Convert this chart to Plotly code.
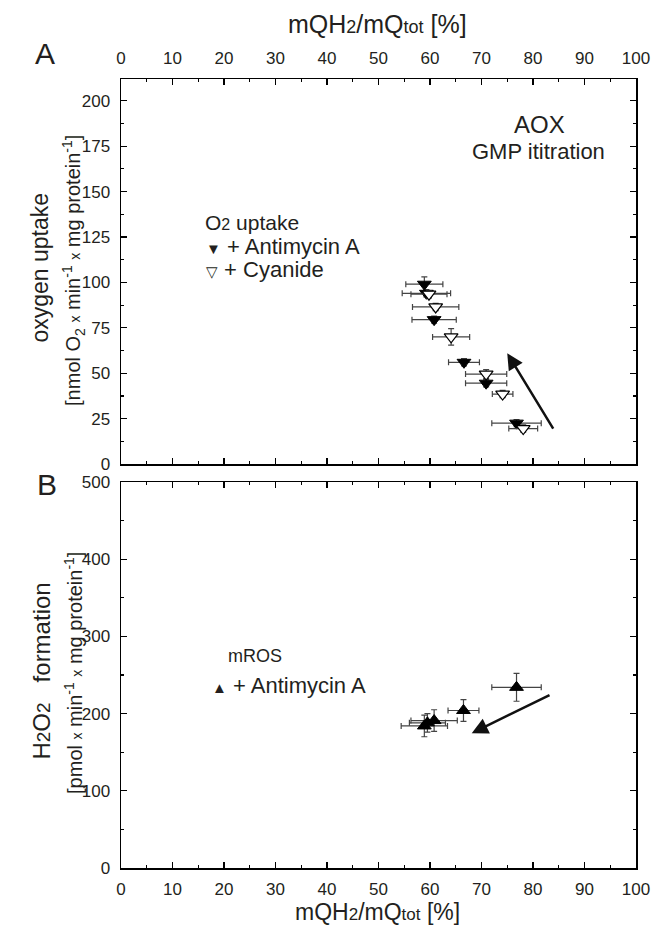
import plotly.graph_objects as go

# ---- data ----
# Panel A: O2 uptake, + Antimycin A (filled down-triangles)
x_aa = [58.9, 59.3, 60.8, 66.6, 70.9, 76.8]
y_aa = [99.0, 94.0, 79.5, 56.0, 44.5, 22.5]
xerr_aa = [3.6, 4.7, 4.3, 3.0, 4.0, 4.8]
yerr_aa = [4.0, 2.0, 2.0, 2.0, 2.0, 2.0]

# Panel A: O2 uptake, + Cyanide (open down-triangles)
x_cn = [59.8, 61.1, 64.1, 70.9, 74.1, 78.1]
y_cn = [93.5, 86.5, 70.0, 49.5, 38.5, 19.5]
xerr_cn = [3.5, 4.5, 3.6, 4.0, 2.0, 2.8]
yerr_cn = [2.0, 2.0, 4.5, 2.5, 2.0, 2.0]

# Panel B: H2O2 formation, mROS + Antimycin A (filled up-triangles)
x_h = [58.9, 59.5, 60.8, 66.5, 76.8]
y_h = [184.0, 188.0, 191.0, 204.0, 234.0]
xerr_h = [4.5, 3.5, 4.5, 3.0, 4.8]
yerr_h = [14.0, 12.0, 14.0, 14.0, 18.0]

# arrows (tail -> head), data units
arrowA_tail = [84.1, 18.7]
arrowA_head = [75.0, 61.0]
arrowB_tail = [83.5, 225.0]
arrowB_head = [68.1, 174.5]

x_ticks = [0, 10, 20, 30, 40, 50, 60, 70, 80, 90, 100]
yA_ticks = [0, 25, 50, 75, 100, 125, 150, 175, 200]
yB_ticks = [0, 100, 200, 300, 400, 500]

FONT = "Liberation Sans, Arial, Helvetica, sans-serif"
TXT = "#231f20"
W, H = 662, 926
ML, MR, MT, MB = 121, 16, 79, 58
PH = H - MT - MB
PW = W - ML - MR


def py(p):
    return (H - MB - p) / PH


def px(p):
    return (p - ML) / PW


ebcol = "#444444"
fig = go.Figure()

fig.add_trace(go.Scatter(
    x=x_aa, y=y_aa, mode="markers", xaxis="x", yaxis="y",
    marker=dict(symbol="triangle-down", size=12, color="black",
                line=dict(color="black", width=1)),
    error_x=dict(type="data", array=xerr_aa, color=ebcol, thickness=1.2, width=3),
    error_y=dict(type="data", array=yerr_aa, color=ebcol, thickness=1.2, width=3),
    showlegend=False, hoverinfo="skip"))

fig.add_trace(go.Scatter(
    x=x_cn, y=y_cn, mode="markers", xaxis="x", yaxis="y",
    marker=dict(symbol="triangle-down", size=12, color="white",
                line=dict(color="black", width=1.2)),
    error_x=dict(type="data", array=xerr_cn, color=ebcol, thickness=1.2, width=3),
    error_y=dict(type="data", array=yerr_cn, color=ebcol, thickness=1.2, width=3),
    showlegend=False, hoverinfo="skip"))

fig.add_trace(go.Scatter(
    x=x_h, y=y_h, mode="markers", xaxis="x2", yaxis="y2",
    marker=dict(symbol="triangle-up", size=12, color="black",
                line=dict(color="black", width=1)),
    error_x=dict(type="data", array=xerr_h, color=ebcol, thickness=1.2, width=3),
    error_y=dict(type="data", array=yerr_h, color=ebcol, thickness=1.2, width=3),
    showlegend=False, hoverinfo="skip"))

axcommon = dict(showline=True, linecolor="black", linewidth=1.5, mirror="ticks",
                ticks="inside", ticklen=6, tickwidth=1.2, tickcolor="black",
                showgrid=False, zeroline=False,
                tickfont=dict(family=FONT, size=17, color=TXT))

fig.update_layout(
    width=W, height=H,
    margin=dict(l=ML, r=MR, t=MT, b=MB),
    paper_bgcolor="white", plot_bgcolor="white",
    font=dict(family=FONT, color=TXT),
    xaxis=dict(domain=[0, 1], anchor="y", side="top", range=[0, 100],
               tickvals=x_ticks, ticklabelstandoff=7,
               minor=dict(dtick=5, ticks="inside", ticklen=3, tickcolor="black"),
               **axcommon),
    yaxis=dict(domain=[py(464), 1], anchor="x", range=[0, 212],
               tickvals=yA_ticks, ticklabelstandoff=6,
               minor=dict(dtick=12.5, ticks="inside", ticklen=3, tickcolor="black"),
               **axcommon),
    xaxis2=dict(domain=[0, 1], anchor="y2", side="bottom", range=[0, 100],
                tickvals=x_ticks, ticklabelstandoff=5,
                minor=dict(dtick=5, ticks="inside", ticklen=3, tickcolor="black"),
                **axcommon),
    yaxis2=dict(domain=[0, py(482)], anchor="x2", range=[0, 500],
                tickvals=yB_ticks, ticklabelstandoff=6,
                minor=dict(dtick=50, ticks="inside", ticklen=3, tickcolor="black"),
                **axcommon),
)

ann = []


def label(text, x, y, size, xref="paper", yref="paper", angle=0, xanchor="center"):
    ann.append(dict(text=text, x=x, y=y, xref=xref, yref=yref, textangle=angle,
                    showarrow=False, xanchor=xanchor, yanchor="middle",
                    font=dict(size=size, family=FONT, color=TXT)))


xtitle_top = "mQH<span style='font-size:18px'>2</span>/mQ<span style='font-size:18px'>tot</span> [%]"
xtitle_bot = "mQH<span style='font-size:17px'>2</span>/mQ<span style='font-size:17px'>tot</span> [%]"
label(xtitle_top, px(382), py(24), 25)
label(xtitle_bot, px(382), py(912), 23)
label("A", px(44), py(54), 30)
label("B", px(46), py(484), 30)

# y titles
sx = "<span style='font-size:14px'>"
label("oxygen uptake", px(38), py(268), 23, angle=-90)
label("[nmol O<sub>2</sub> " + sx + "x</span> min<sup>-1</sup> " + sx + "x</span> mg protein<sup>-1</sup>]",
      px(72), py(270), 20, angle=-90)
label("H<span style='font-size:19px'>2</span>O<span style='font-size:19px'>2</span>   formation",
      px(39), py(671), 24, angle=-90)
label("[pmol " + sx + "x</span> min<sup>-1</sup> " + sx + "x</span> mg protein<sup>-1</sup>]",
      px(72), py(673), 20, angle=-90)

# in-plot labels, panel A
label("AOX", 81.3, 187, 24, xref="x", yref="y")
label("GMP ititration", 81.0, 172, 22, xref="x", yref="y")
label("O<span style='font-size:16px'>2</span> uptake", 16.0, 133.0, 21, xref="x", yref="y", xanchor="left")
label("<span style='font-size:15px'>▼</span> + Antimycin A", 16.2, 119.5, 22, xref="x", yref="y", xanchor="left")
label("<span style='font-size:15px'>▽</span> + Cyanide", 16.2, 107.0, 22, xref="x", yref="y", xanchor="left")

# in-plot labels, panel B
label("mROS", 20.4, 274, 18, xref="x2", yref="y2", xanchor="left")
label("<span style='font-size:15px'>▲</span> + Antimycin A", 17.3, 237, 22, xref="x2", yref="y2", xanchor="left")

# arrows
ann.append(dict(x=arrowA_head[0], y=arrowA_head[1], ax=arrowA_tail[0], ay=arrowA_tail[1],
                xref="x", yref="y", axref="x", ayref="y", text="", showarrow=True,
                arrowhead=2, arrowsize=1.3, arrowwidth=2.5, arrowcolor="#111"))
ann.append(dict(x=arrowB_head[0], y=arrowB_head[1], ax=arrowB_tail[0], ay=arrowB_tail[1],
                xref="x2", yref="y2", axref="x2", ayref="y2", text="", showarrow=True,
                arrowhead=2, arrowsize=1.3, arrowwidth=2.5, arrowcolor="#111"))

fig.update_layout(annotations=ann)
fig.write_html("out.html",
               config={"displayModeBar": False, "staticPlot": True},
               post_script="document.body.style.margin='0px';document.body.style.padding='0px';")
